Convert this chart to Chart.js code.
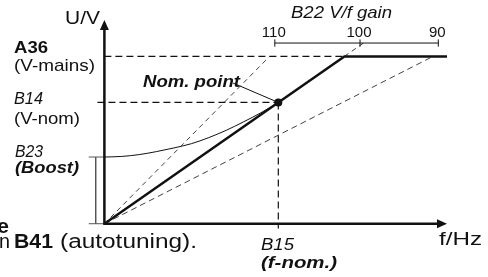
<!DOCTYPE html>
<html>
<head>
<meta charset="utf-8">
<script src="https://cdn.jsdelivr.net/npm/chart.js@4.4.1/dist/chart.umd.min.js"></script>
<style>
  body { margin: 0; background: #fff; }
</style>
</head>
<body>
<canvas id="vf" width="488" height="277"></canvas>
<script>
'use strict';

// frequency and voltage both in % of nominal (B15 = 100, B14 = 100)
var vMains = 138;        // A36
var vBoost = 55;         // B23
var vScale = 149;        // height of the B22 gain scale
var fMax = 197;
var vMax = 168;

var nomPoint = [100, 100];
var mainF = [0, 100, 138, 197];
var mainV = [0, 100, 138, 138];
var gain110 = [[0, 0], [95, 138]];
var gain90 = [[0, 0], [189, 138]];
var gain100Ext = [[138, 138], [149, 149]];
var boostF = [0, 10, 20, 30, 40, 50, 60, 70, 80, 90, 100];
var boostV = [55, 55.5, 57, 59.5, 62.5, 66, 71, 77, 84, 91.5, 100];
var gainTickF = [98, 147, 192];
var gainTickLabels = ['110', '100', '90'];
var leader = [[74, 116], [100, 100]];

var FONT = "'Liberation Sans', Arial, sans-serif";

function pts(arr) {
  return arr.map(function(p) { return p ? { x: p[0], y: p[1] } : { x: null, y: null }; });
}

function zip(xs, ys) {
  return xs.map(function(x, i) { return { x: x, y: ys[i] }; });
}

function line(data, opts) {
  var ds = {
    type: 'line',
    data: data,
    borderColor: '#111',
    borderWidth: 1,
    pointRadius: 0,
    fill: false,
    tension: 0,
    clip: false,
    spanGaps: false
  };
  for (var k in opts) ds[k] = opts[k];
  return ds;
}

// scale bar with small ticks
var scaleBar = [[gainTickF[0], vScale], [gainTickF[2], vScale]];
gainTickF.forEach(function(f) {
  scaleBar.push(null, [f, vScale - 3], [f, vScale + 3]);
});

// boost bracket
var bracket = [[-9, vBoost], [0, vBoost], null, [-5, vBoost], [-5, 0], null, [-9, 0], [0, 0]];

var labels = [
  // text, left, baseline, width, font
  { t: 'U/V', x: 65, y: 24, w: 35, f: '18px' },
  { t: 'A36', x: 14, y: 53, w: 34, f: 'bold 17px' },
  { t: '(V-mains)', x: 14, y: 71, w: 81, f: '17px' },
  { t: 'B14', x: 14, y: 104, w: 29, f: 'italic 17px' },
  { t: '(V-nom)', x: 14, y: 124, w: 66, f: '17px' },
  { t: 'B23', x: 15, y: 157, w: 28, f: 'italic 17px' },
  { t: '(Boost)', x: 15, y: 173, w: 64, f: 'italic bold 17px' },
  { t: 'Nom. point', x: 143, y: 87, w: 97, f: 'italic bold 17px' },
  { t: 'B22 V/f gain', x: 291, y: 18, w: 101, f: 'italic 17px' },
  { t: 'B15', x: 261, y: 250, w: 33, f: 'italic 17px' },
  { t: '(f-nom.)', x: 261, y: 268, w: 76, f: 'italic bold 17px' },
  { t: 'f/Hz', x: 439, y: 245, w: 43, f: '18px' },
  { t: 'e', x: -3, y: 233, w: 12, f: 'bold 20px' },
  { t: 'n', x: -1, y: 248, w: 11, f: '20px' },
  { t: 'B41', x: 14, y: 248, w: 39, f: 'bold 20px' },
  { t: '(autotuning).', x: 60, y: 248, w: 137, f: '20px' }
];

function drawText(ctx, t, x, y, w, font, align) {
  ctx.save();
  ctx.font = font + ' ' + FONT;
  var mw = ctx.measureText(t).width;
  var sx = w ? w / mw : 1;
  ctx.translate(x, y);
  ctx.scale(sx, 1);
  ctx.textBaseline = 'alphabetic';
  ctx.textAlign = align || 'left';
  ctx.fillStyle = '#111';
  ctx.fillText(t, 0, 0);
  ctx.restore();
}

var decor = {
  id: 'decor',
  afterDatasetsDraw: function(chart) {
    var ctx = chart.ctx;
    var xs = chart.scales.x, ys = chart.scales.y;
    var x0 = xs.getPixelForValue(0), y0 = ys.getPixelForValue(0);
    var xEnd = xs.getPixelForValue(fMax), yEnd = ys.getPixelForValue(vMax);

    ctx.save();
    ctx.strokeStyle = '#111';
    ctx.fillStyle = '#111';
    ctx.lineWidth = 2.5;
    ctx.beginPath();
    ctx.moveTo(x0, y0 + 1);
    ctx.lineTo(x0, yEnd + 6);
    ctx.moveTo(x0 - 1, y0);
    ctx.lineTo(xEnd - 6, y0);
    ctx.stroke();
    // arrow heads
    ctx.beginPath();
    ctx.moveTo(x0, yEnd);
    ctx.lineTo(x0 - 4.5, yEnd + 10);
    ctx.lineTo(x0 + 4.5, yEnd + 10);
    ctx.closePath();
    ctx.fill();
    ctx.beginPath();
    ctx.moveTo(xEnd, y0);
    ctx.lineTo(xEnd - 10, y0 - 4.5);
    ctx.lineTo(xEnd - 10, y0 + 4.5);
    ctx.closePath();
    ctx.fill();
    ctx.restore();

    labels.forEach(function(l) {
      drawText(ctx, l.t, l.x, l.y, l.w, l.f);
    });
    gainTickF.forEach(function(f, i) {
      var px = xs.getPixelForValue(f) - 1;
      drawText(ctx, gainTickLabels[i], px, ys.getPixelForValue(vScale) - 6, null, '15px', 'center');
    });
  }
};

new Chart(document.getElementById('vf'), {
  type: 'scatter',
  data: {
    datasets: [
      line([{ x: nomPoint[0], y: nomPoint[1] }], { pointRadius: 4, pointBackgroundColor: '#111', pointBorderWidth: 0 }),
      line(zip(mainF, mainV), { borderWidth: 2.5 }),
      line(pts(leader), {}),
      line(zip(boostF, boostV), { cubicInterpolationMode: 'monotone' }),
      line(pts(bracket), { borderColor: '#555' }),
      line(pts([[0, vMains], [mainF[2], vMains]]), { borderDash: [7, 4], borderWidth: 1.2 }),
      line(pts([[-4, nomPoint[1]], nomPoint]), { borderDash: [7, 4], borderWidth: 1.2 }),
      line(pts([nomPoint, [nomPoint[0], -4]]), { borderDash: [7, 4], borderWidth: 1.2 }),
      line(pts(gain110), { borderDash: [5, 4], borderWidth: 0.8 }),
      line(pts(gain90), { borderDash: [6, 4], borderWidth: 0.8 }),
      line(pts(gain100Ext), { borderDash: [5, 4], borderWidth: 0.8 }),
      line(pts(scaleBar), {})
    ]
  },
  options: {
    responsive: false,
    animation: false,
    devicePixelRatio: 1,
    layout: { padding: { left: 87, right: 41, top: 20, bottom: 46 } },
    plugins: { legend: { display: false }, tooltip: { enabled: false } },
    scales: {
      x: { type: 'linear', min: -10, max: fMax, display: false },
      y: { type: 'linear', min: -6, max: vMax, display: false }
    }
  },
  plugins: [decor]
});
</script>
</body>
</html>
